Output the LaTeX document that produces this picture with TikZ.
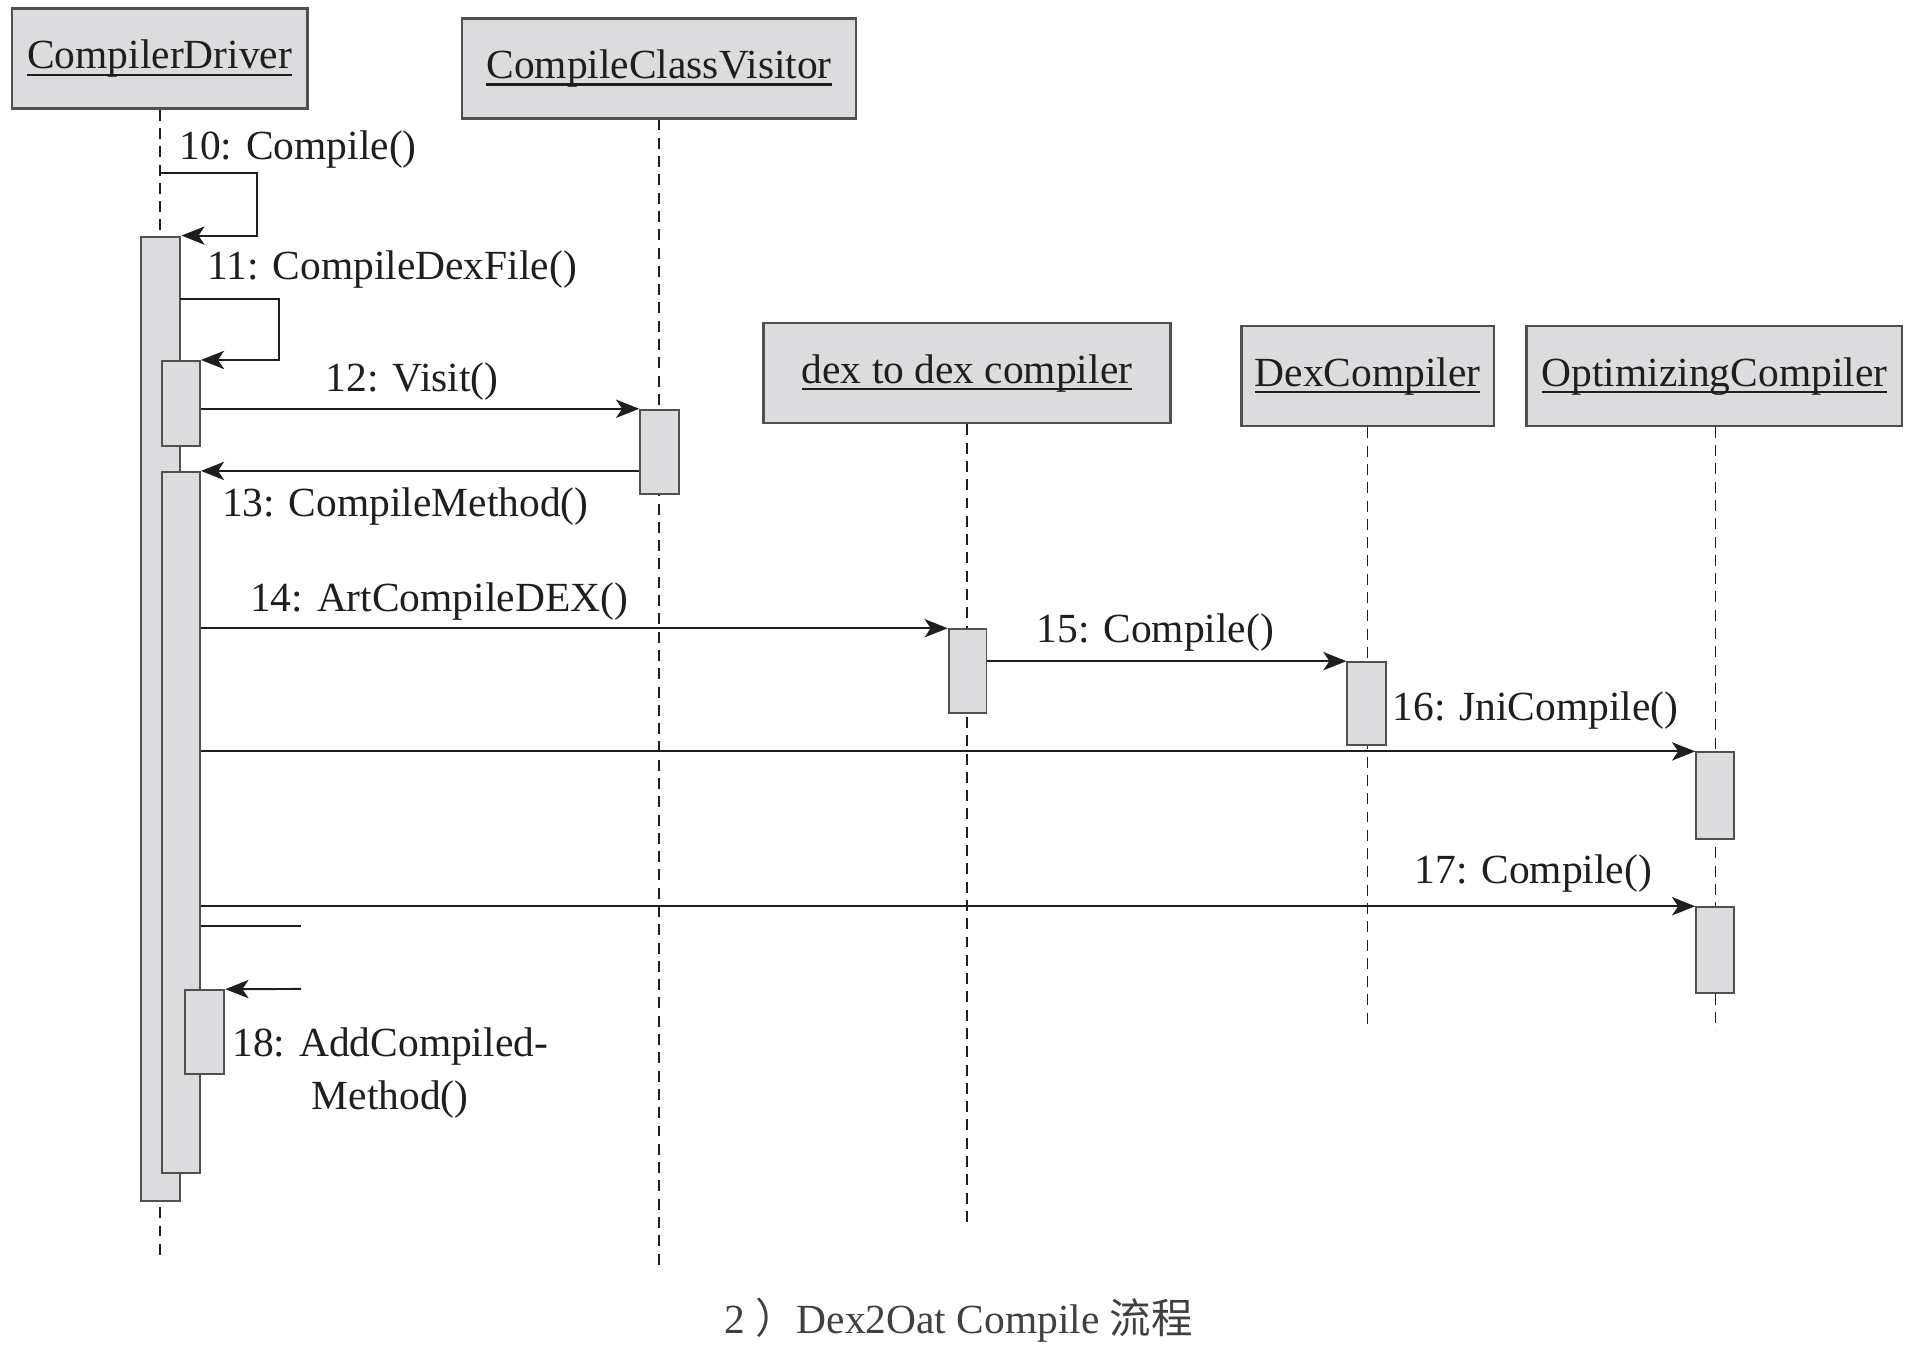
\documentclass[tikz,border=0pt]{standalone}
\usepackage{fontspec}
\setmainfont{Liberation Serif}
\newfontfamily\cjkfont{Noto Sans CJK SC}
\usetikzlibrary{arrows.meta}
\definecolor{boxfill}{RGB}{220,220,222}
\definecolor{boxdraw}{RGB}{80,80,80}
\definecolor{ink}{RGB}{30,30,30}
\newcommand{\hdul}[1]{\setbox0\hbox{#1}\leavevmode\rlap{\rule[-6pt]{\wd0}{1.8pt}}\box0}
\begin{document}
\begin{tikzpicture}[x=1pt,y=-1pt,
  font=\fontsize{34}{44}\selectfont,
  head/.style={draw=boxdraw, fill=boxfill, line width=2pt, minimum height=82pt, inner sep=0pt, text=ink},
  act/.style={draw=boxdraw, fill=boxfill, line width=1.6pt, minimum width=31pt, inner sep=0pt},
  life/.style={draw=ink, line width=1.3pt, dash pattern=on 9pt off 6pt},
  msg/.style={draw=ink, line width=1.6pt, -{Stealth[length=19pt,width=15pt,inset=5pt]}},
  plain/.style={draw=ink, line width=1.6pt},
  lbl/.style={inner sep=0pt, text=ink}
]
\useasboundingbox (0,0) rectangle (1568,1112);

% heads
\node[head, minimum width=242pt] (cd)  at (131,48)    {\hdul{CompilerDriver}};
\node[head, minimum width=323pt] (ccv) at (540.5,56)  {\hdul{CompileClassVisitor}};
\node[head, minimum width=334pt] (d2d) at (793,306)   {\hdul{dex to dex compiler}};
\node[head, minimum width=207pt] (dc)  at (1121.5,308.5) {\hdul{DexCompiler}};
\node[head, minimum width=308pt] (oc)  at (1406,308.5) {\hdul{OptimizingCompiler}};

% lifeline ends
\coordinate (cdend)  at (131,1030);
\coordinate (ccvend) at (541,1038);
\coordinate (d2dend) at (793,1005);
\coordinate (dcend)  at (1121,845);
\coordinate (ocend)  at (1407,845);

\draw[life] (cd.south)  -- (cdend);
\draw[life] (ccv.south) -- (ccv.south |- ccvend);
\draw[life] (d2d.south) -- (d2d.south |- d2dend);
\draw[life] (dc.south)  -- (dc.south |- dcend);
\draw[life] (1407,350) -- (ocend);

% activations
\node[act, minimum width=32pt, minimum height=791pt] (cdmain) at (132,589.5) {};
\node[act, minimum height=70pt]  (cdn1) at (148.5,331)   {};
\node[act, minimum height=575pt] (cdn2) at (148.5,674.5) {};
\node[act, minimum width=32pt, minimum height=69pt] (cdn3) at (168,846.5) {};
\node[act, minimum width=32pt, minimum height=69pt] (ccva) at (541,370.5) {};
\node[act, minimum height=69pt]  (d2da) at (793.5,550.5) {};
\node[act, minimum width=32pt, minimum height=68pt] (dca) at (1121,577) {};
\node[act, minimum height=71pt]  (oca1) at (1406.5,652.5) {};
\node[act, minimum height=70pt]  (oca2) at (1406.5,779) {};

% messages
\coordinate (l10a) at (131,142);
\coordinate (l10b) at (211,142);
\draw[msg] (l10a) -- (l10b) |- (cdmain.north east);
\coordinate (l11a) at (148,245);
\coordinate (l11b) at (229,245);
\draw[msg] (l11a) -- (l11b) |- (cdn1.north east);
\draw[msg] (cdn1.east |- ccva.north) -- (ccva.north west);
\draw[msg] (ccva.west |- cdn2.north) -- (cdn2.north east);
\draw[msg] (cdn2.east |- d2da.north) -- (d2da.north west);
\draw[msg] (d2da.east |- dca.north) -- (dca.north west);
\draw[msg] (cdn2.east |- oca1.north) -- (oca1.north west);
\draw[msg] (cdn2.east |- oca2.north) -- (oca2.north west);
\coordinate (l18a) at (247,759);
\coordinate (l18b) at (247,811);
\draw[plain] (cdn2.east |- l18a) -- (l18a);
\draw[msg] (l18b) -- (cdn3.north east);

% labels
\node[lbl, anchor=west] (t10) at (147,123) {10: Compile()};
\node[lbl, anchor=west] (t11) at (170,221) {11: CompileDexFile()};
\node[lbl] (t12) at (338,313) {12: Visit()};
\node[lbl, anchor=west] (t13) at (182,415) {13: CompileMethod()};
\node[lbl, anchor=west] (t14) at (205,493) {14: ArtCompileDEX()};
\node[lbl, anchor=west] (t15) at (850,519) {15: Compile()};
\node[lbl, anchor=west] (t16) at (1142,583) {16: JniCompile()};
\node[lbl, anchor=west] (t17) at (1160,716) {17: Compile()};
\node[lbl, align=center] (t18) at (320,880) {18: AddCompiled-\\Method()};

% caption
\node[lbl, text=ink!85] (cap) at (786,1083) {\fontsize{34}{40}\selectfont 2 {\cjkfont ）}Dex2Oat Compile {\cjkfont 流程}};
\end{tikzpicture}
\end{document}
